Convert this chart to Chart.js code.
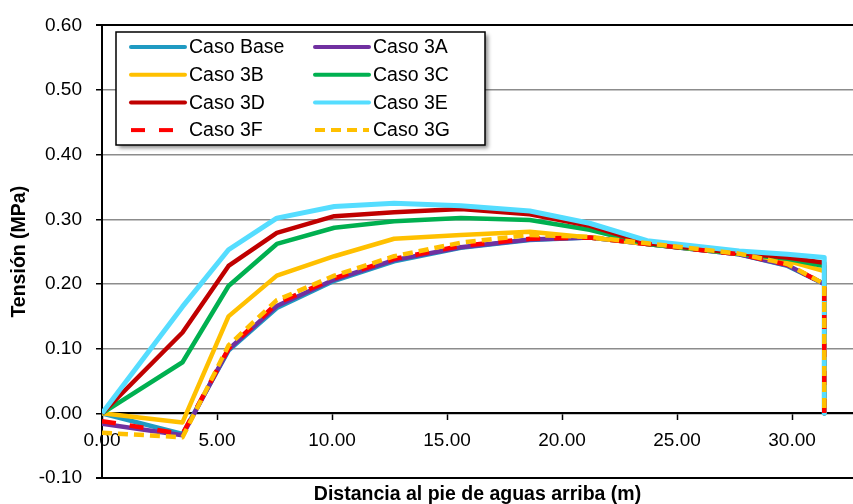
<!DOCTYPE html>
<html>
<head>
<meta charset="utf-8">
<script src="https://cdn.jsdelivr.net/npm/chart.js@4.4.1/dist/chart.umd.min.js"></script>
<style>
  html, body { margin: 0; padding: 0; background: #fff; }
  #wrap { width: 853px; height: 504px; }
</style>
</head>
<body>
<div id="wrap"><canvas id="tensionChart" width="853" height="504"></canvas></div>
<script>
// Distances along the base (m)
const distances = [0, 3.5, 5.5, 7.6, 10.1, 12.7, 15.6, 18.6, 21.2, 23.7, 27.7, 29.8, 31.4, 31.4];

// Stress values (MPa)
const casoBase = [0, -0.032, 0.097, 0.163, 0.205, 0.235, 0.256, 0.268, 0.272, 0.262, 0.246, 0.228, 0.200, 0];
const caso3A   = [-0.016, -0.034, 0.099, 0.166, 0.207, 0.237, 0.257, 0.269, 0.272, 0.262, 0.246, 0.229, 0.200, 0];
const caso3B   = [0, -0.014, 0.150, 0.213, 0.243, 0.270, 0.276, 0.281, 0.272, 0.262, 0.247, 0.236, 0.220, 0];
const caso3C   = [0, 0.079, 0.197, 0.262, 0.287, 0.297, 0.302, 0.299, 0.284, 0.262, 0.247, 0.239, 0.228, 0];
const caso3D   = [0, 0.125, 0.228, 0.279, 0.305, 0.311, 0.316, 0.308, 0.290, 0.263, 0.248, 0.241, 0.233, 0];
const caso3E   = [0, 0.165, 0.253, 0.302, 0.320, 0.325, 0.321, 0.313, 0.294, 0.267, 0.251, 0.246, 0.241, 0];
const caso3F   = [-0.012, -0.032, 0.100, 0.170, 0.209, 0.239, 0.259, 0.270, 0.272, 0.262, 0.246, 0.230, 0.200, 0];
const caso3G   = [-0.030, -0.037, 0.105, 0.175, 0.213, 0.243, 0.264, 0.276, 0.273, 0.263, 0.247, 0.231, 0.200, 0];

const seriesLabels = ['Caso Base', 'Caso 3A', 'Caso 3B', 'Caso 3C', 'Caso 3D', 'Caso 3E', 'Caso 3F', 'Caso 3G'];
const xTicks = [0, 5, 10, 15, 20, 25, 30];
const yTicks = [-0.1, 0, 0.1, 0.2, 0.3, 0.4, 0.5, 0.6];

const FONT = '"Liberation Sans", Arial, sans-serif';

function toPoints(values) {
    return values.map((v, i) => ({ x: distances[i], y: v }));
}

function makeSet(label, values, color, width, dash, order) {
    return {
        label: label,
        data: toPoints(values),
        borderColor: color,
        backgroundColor: color,
        borderWidth: width,
        borderDash: dash,
        pointRadius: 0,
        tension: 0,
        fill: false,
        borderJoinStyle: 'round',
        order: order
    };
}

const datasets = [
    makeSet(seriesLabels[0], casoBase, '#1F9AC2', 4.5, [], 8),
    makeSet(seriesLabels[1], caso3A, '#7030A0', 4.5, [], 7),
    makeSet(seriesLabels[2], caso3B, '#FFC000', 4.5, [], 6),
    makeSet(seriesLabels[3], caso3C, '#00B050', 4.5, [], 5),
    makeSet(seriesLabels[4], caso3D, '#C00000', 4.5, [], 4),
    makeSet(seriesLabels[5], caso3E, '#55DDFF', 5, [], 3),
    makeSet(seriesLabels[6], caso3F, '#FF0000', 4.5, [14, 14], 2),
    makeSet(seriesLabels[7], caso3G, '#FFC000', 4.5, [10, 6], 1)
];

// Legend drawn as a boxed 2-column block inside the plot
const boxLegend = {
    id: 'boxLegend',
    afterDraw(chart) {
        const ctx = chart.ctx;
        const x0 = 116, y0 = 32, w = 369, h = 113;
        ctx.save();
        ctx.shadowColor = 'rgba(0,0,0,0.45)';
        ctx.shadowBlur = 4;
        ctx.shadowOffsetX = 3;
        ctx.shadowOffsetY = 3;
        ctx.fillStyle = '#fff';
        ctx.fillRect(x0, y0, w, h);
        ctx.restore();

        ctx.save();
        ctx.strokeStyle = '#000';
        ctx.lineWidth = 1.5;
        ctx.strokeRect(x0, y0, w, h);
        ctx.font = '19.5px ' + FONT;
        ctx.textBaseline = 'middle';
        ctx.textAlign = 'left';
        chart.data.datasets.forEach((ds, i) => {
            const col = i % 2, row = Math.floor(i / 2);
            const lx = col === 0 ? 131 : 315;
            const y = 47 + row * 27.7;
            ctx.beginPath();
            ctx.strokeStyle = ds.borderColor;
            ctx.lineWidth = 4;
            ctx.lineCap = ds.borderDash.length ? 'butt' : 'round';
            ctx.setLineDash(ds.borderDash);
            ctx.moveTo(lx, y);
            ctx.lineTo(lx + 54, y);
            ctx.stroke();
            ctx.setLineDash([]);
            ctx.fillStyle = '#000';
            ctx.fillText(ds.label, lx + 58, y + 1);
        });
        ctx.restore();
    }
};

const ctx = document.getElementById('tensionChart').getContext('2d');
new Chart(ctx, {
    type: 'line',
    data: { datasets: datasets },
    plugins: [boxLegend],
    options: {
        responsive: false,
        animation: false,
        layout: { padding: { top: 24, right: 0, bottom: 0, left: 0 } },
        plugins: { legend: { display: false }, tooltip: { enabled: false } },
        scales: {
            x: {
                type: 'linear',
                position: { y: 0 },
                min: 0,
                max: 32.65,
                afterBuildTicks: s => { s.ticks = xTicks.map(v => ({ value: v })); },
                ticks: {
                    callback: v => v.toFixed(2),
                    font: { family: FONT, size: 19 },
                    color: '#000',
                    padding: 10,
                    maxRotation: 0,
                    autoSkip: false
                },
                grid: { drawOnChartArea: false, tickLength: 6, tickColor: '#000', tickWidth: 1.5 },
                border: { color: '#000', width: 2 }
            },
            x2: {
                type: 'linear',
                position: 'bottom',
                min: 0,
                max: 32.65,
                ticks: { display: false },
                grid: { display: false, drawTicks: false },
                border: { display: false },
                title: {
                    display: true,
                    text: 'Distancia al pie de aguas arriba (m)',
                    color: '#000',
                    font: { family: FONT, size: 19.5, weight: 'bold', lineHeight: 1 },
                    padding: { top: 0, bottom: 0 }
                },
                afterFit: s => { s.height = 26; }
            },
            y: {
                type: 'linear',
                position: 'left',
                min: -0.1,
                max: 0.6,
                afterBuildTicks: s => { s.ticks = yTicks.map(v => ({ value: v })); },
                ticks: {
                    callback: v => v.toFixed(2),
                    font: { family: FONT, size: 19 },
                    color: '#000',
                    padding: 14
                },
                grid: {
                    color: c => (Math.abs(c.tick.value - 0.6) < 1e-6 || Math.abs(c.tick.value + 0.1) < 1e-6) ? '#000' : '#8c8c8c',
                    lineWidth: c => (Math.abs(c.tick.value - 0.6) < 1e-6 || Math.abs(c.tick.value + 0.1) < 1e-6) ? 2 : 1.5,
                    tickColor: '#000',
                    tickLength: 6
                },
                border: { color: '#000', width: 2 },
                title: {
                    display: true,
                    text: 'Tensión (MPa)',
                    color: '#000',
                    font: { family: FONT, size: 19.5, weight: 'bold' },
                    padding: { top: 8, bottom: 0 }
                },
                afterFit: s => { s.width = 102; }
            }
        }
    }
});
</script>
</body>
</html>
